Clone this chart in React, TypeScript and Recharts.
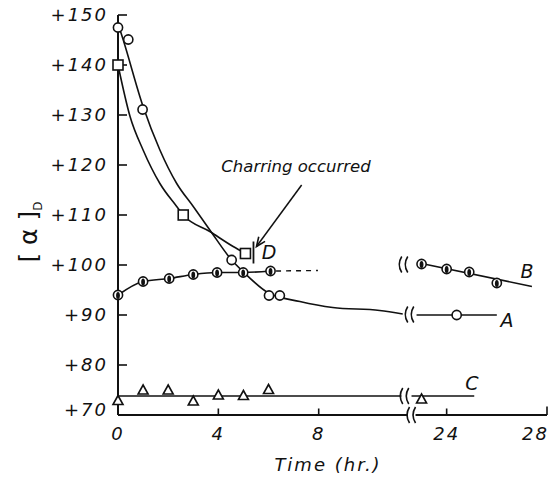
import { ComposedChart, Line, Scatter, XAxis, YAxis, ReferenceLine, ReferenceDot } from 'recharts'

// the time axis is broken between ~11.5 h and ~22.6 h
const BREAK_SHIFT = 10.9
const toPos = (t: number) => (t > 12 ? t - BREAK_SHIFT : t)

const xTickHours = [0, 4, 8, 24, 28]
const yTicks = [70, 80, 90, 100, 110, 120, 130, 140, 150]

// A: open circles + fitted curve
const aHours = [0, 0.41, 0.98, 4.53, 6.02, 6.45, 24.4]
const aValues = [147.5, 145.1, 131.1, 101.0, 93.9, 93.9, 90.0]
const aCurveHours = [0, 0.21, 1.0, 1.67, 2.34, 3.0, 3.66, 4.53, 4.98, 6.0, 7.25, 8.56, 10.43, 11.35]
const aCurveValues = [148.3, 145.0, 131.7, 123.0, 116.3, 111.7, 107.0, 101.0, 98.7, 94.4, 92.7, 91.5, 90.9, 90.2]
const aTailHours = [22.8, 26.0]
const aTailValues = [90.0, 90.0]

// B: half filled circles
const bHours = [0, 1, 2.04, 3, 3.95, 4.99, 6.08]
const bValues = [94.0, 96.7, 97.3, 98.1, 98.5, 98.5, 98.8]
const bDashHours = [6.3, 7.97]
const bDashValues = [98.8, 98.9]
const bLateHours = [23.0, 24.0, 24.9, 26.0]
const bLateValues = [100.2, 99.2, 98.6, 96.4]
const bLineHours = [23.0, 27.4]
const bLineValues = [100.3, 95.7]

// C: triangles
const cHours = [0, 1, 2, 3, 4, 5, 6, 23.0]
const cValues = [72.9, 75.0, 75.0, 72.8, 74.0, 73.9, 75.1, 73.2]
const cLineHours = [0, 11.3]
const cTailHours = [22.6, 25.1]
const cLevel = 73.8

// D: squares, charring at ~5.4 h
const dHours = [0, 2.6, 5.08]
const dValues = [140, 110.0, 102.3]
const dCurveHours = [0, 0.48, 1.0, 1.67, 2.34, 2.6, 3.66, 4.59, 5.08]
const dCurveValues = [140, 129.7, 123.0, 116.3, 111.7, 110.0, 106.7, 103.7, 102.3]
const dEndHour = 5.4
const dEndRange = [100.3, 104.7]

const arrowFrom = { t: 7.32, v: 116 }
const arrowTo = { t: 5.52, v: 103.7 }

const pts = (hours: number[], values: number[]) => hours.map((h, i) => ({ x: toPos(h), y: values[i] }))

const INK = '#111'
const font = "'DejaVu Sans', sans-serif"

const OpenCircle = (props: any) => (
  <circle cx={props.cx} cy={props.cy} r={4.6} fill="#fff" stroke={INK} strokeWidth={1.6} />
)

const HalfCircle = (props: any) => (
  <g>
    <circle cx={props.cx} cy={props.cy} r={4.6} fill="#fff" stroke={INK} strokeWidth={1.6} />
    <ellipse cx={props.cx} cy={props.cy + 0.5} rx={1.9} ry={3.6} fill={INK} />
  </g>
)

const Square = (props: any) => (
  <rect x={props.cx - 5} y={props.cy - 5} width={10} height={10} fill="#fff" stroke={INK} strokeWidth={1.6} />
)

const Triangle = (props: any) => {
  const { cx, cy } = props
  return (
    <path d={`M${cx - 5},${cy + 4} L${cx + 5},${cy + 4} L${cx},${cy - 5} Z`} fill="#fff" stroke={INK} strokeWidth={1.6} />
  )
}

const BreakMark = (props: any) => {
  const { cx, cy } = props
  return (
    <g fill="none" stroke={INK} strokeWidth={1.6}>
      <path d={`M${cx - 2},${cy - 8} Q${cx - 7},${cy} ${cx - 2},${cy + 8}`} />
      <path d={`M${cx + 4},${cy - 8} Q${cx - 1},${cy} ${cx + 4},${cy + 8}`} />
    </g>
  )
}

const ArrowHead = (props: any) => {
  const { cx, cy } = props
  const ang = (126 * Math.PI) / 180
  const len = 10
  const b1 = { x: cx - len * Math.cos(ang - 0.4), y: cy - len * Math.sin(ang - 0.4) }
  const b2 = { x: cx - len * Math.cos(ang + 0.4), y: cy - len * Math.sin(ang + 0.4) }
  return (
    <path d={`M${b1.x},${b1.y} L${cx},${cy} L${b2.x},${b2.y}`} fill="none" stroke={INK} strokeWidth={1.6} />
  )
}

const YTick = ({ x, y, payload }: any) => (
  <text x={x} y={y + 6 - (payload.value === 70 ? 5 : 0)} textAnchor="end" fontFamily={font} fontStyle="italic"
    fontSize={18} letterSpacing={2} fill={INK}>
    +{payload.value}
  </text>
)

const XTick = ({ x, y, index }: any) => {
  const last = index === xTickHours.length - 1
  return (
    <text x={last ? x + 2 : x} y={y + 25} textAnchor={last ? 'end' : 'middle'} fontFamily={font} fontStyle="italic"
      fontSize={18} letterSpacing={2} fill={INK}>
      {xTickHours[index]}
    </text>
  )
}

const labelStyle = { fontFamily: font, fontStyle: 'italic' as const, fill: INK }

export default function App() {
  const xMax = toPos(28)
  return (
    <div style={{ position: 'absolute', left: 0, top: 0, width: 551, height: 481, background: '#fff' }}>
      <ComposedChart width={551} height={481} margin={{ top: 15, right: 4, bottom: 36, left: 48 }}>
        <XAxis type="number" dataKey="x" domain={[0, xMax]} ticks={xTickHours.map(toPos)} interval={0}
          axisLine={false} tickLine={false} tickSize={0} tickMargin={0} tick={<XTick />} height={30} />
        <YAxis type="number" dataKey="y" domain={[70, 150]} ticks={yTicks} interval={0} width={70}
          axisLine={{ stroke: INK, strokeWidth: 2 }} tickLine={false} tickSize={0} tickMargin={10} tick={<YTick />} />

        {/* broken time axis */}
        <ReferenceLine segment={[{ x: 0, y: 70 }, { x: 11.55, y: 70 }]} stroke={INK} strokeWidth={2} />
        <ReferenceLine segment={[{ x: 11.86, y: 70 }, { x: xMax, y: 70 }]} stroke={INK} strokeWidth={2} />
        {xTickHours.slice(1).map((h) => (
          <ReferenceLine key={'xt' + h} segment={[{ x: toPos(h), y: 70 }, { x: toPos(h), y: h === 28 ? 71.7 : 71.3 }]}
            stroke={INK} strokeWidth={1.6} />
        ))}
        {yTicks.slice(1).map((v) => (
          <ReferenceLine key={'yt' + v} segment={[{ x: 0, y: v }, { x: 0.36, y: v }]} stroke={INK} strokeWidth={1.6} />
        ))}
        <ReferenceDot x={11.7} y={70} r={0} shape={BreakMark} />

        {/* A */}
        <Line data={pts(aCurveHours, aCurveValues)} dataKey="y" type="monotone" stroke={INK} strokeWidth={1.6} dot={false} isAnimationActive={false} />
        <Line data={pts(aTailHours, aTailValues)} dataKey="y" type="linear" stroke={INK} strokeWidth={1.6} dot={false} isAnimationActive={false} />
        <ReferenceDot x={11.63} y={90.1} r={0} shape={BreakMark} />

        {/* B */}
        <Line data={pts(bHours, bValues)} dataKey="y" type="monotone" stroke={INK} strokeWidth={1.6} dot={false} isAnimationActive={false} />
        <Line data={pts(bDashHours, bDashValues)} dataKey="y" type="linear" stroke={INK} strokeWidth={1.4} strokeDasharray="5 5" dot={false} isAnimationActive={false} />
        <Line data={pts(bLineHours, bLineValues)} dataKey="y" type="linear" stroke={INK} strokeWidth={1.6} dot={false} isAnimationActive={false} />
        <ReferenceDot x={11.39} y={100.1} r={0} shape={BreakMark} />

        {/* C */}
        <Line data={pts(cLineHours, [cLevel, cLevel])} dataKey="y" type="linear" stroke={INK} strokeWidth={1.6} dot={false} isAnimationActive={false} />
        <Line data={pts(cTailHours, [cLevel, cLevel])} dataKey="y" type="linear" stroke={INK} strokeWidth={1.6} dot={false} isAnimationActive={false} />
        <ReferenceDot x={11.43} y={cLevel} r={0} shape={BreakMark} />

        {/* D */}
        <Line data={pts(dCurveHours, dCurveValues)} dataKey="y" type="monotone" stroke={INK} strokeWidth={1.6} dot={false} isAnimationActive={false} />
        <ReferenceLine segment={[{ x: dEndHour, y: dEndRange[0] }, { x: dEndHour, y: dEndRange[1] }]} stroke={INK} strokeWidth={1.8} />
        <ReferenceLine segment={[{ x: arrowFrom.t, y: arrowFrom.v }, { x: arrowTo.t, y: arrowTo.v }]} stroke={INK} strokeWidth={1.5} />
        <ReferenceDot x={arrowTo.t} y={arrowTo.v} r={0} shape={ArrowHead} />

        <Scatter data={pts(aHours, aValues)} shape={OpenCircle} isAnimationActive={false} />
        <Scatter data={pts(bHours, bValues)} shape={HalfCircle} isAnimationActive={false} />
        <Scatter data={pts(bLateHours, bLateValues)} shape={HalfCircle} isAnimationActive={false} />
        <Scatter data={pts(cHours, cValues)} shape={Triangle} isAnimationActive={false} />
        <Scatter data={pts(dHours, dValues)} shape={Square} isAnimationActive={false} />
      </ComposedChart>

      <svg width={551} height={481} style={{ position: 'absolute', left: 0, top: 0, pointerEvents: 'none' }}>
        <text x={37} y={232} transform="rotate(-90 37 232)" textAnchor="middle" fontSize={25} {...labelStyle} fontStyle="normal">
          [ α ]<tspan dy={5} fontSize={12}>D</tspan>
        </text>
        <text x={328} y={471} textAnchor="middle" fontSize={18} letterSpacing={2} {...labelStyle}>Time (hr.)</text>
        <text x={296} y={172} textAnchor="middle" fontSize={16.5} {...labelStyle}>Charring occurred</text>
        <text x={507} y={327} textAnchor="middle" fontSize={19} {...labelStyle}>A</text>
        <text x={527} y={278} textAnchor="middle" fontSize={19} {...labelStyle}>B</text>
        <text x={472} y={390} textAnchor="middle" fontSize={19} {...labelStyle}>C</text>
        <text x={269} y={259} textAnchor="middle" fontSize={19} {...labelStyle}>D</text>
      </svg>
    </div>
  )
}
